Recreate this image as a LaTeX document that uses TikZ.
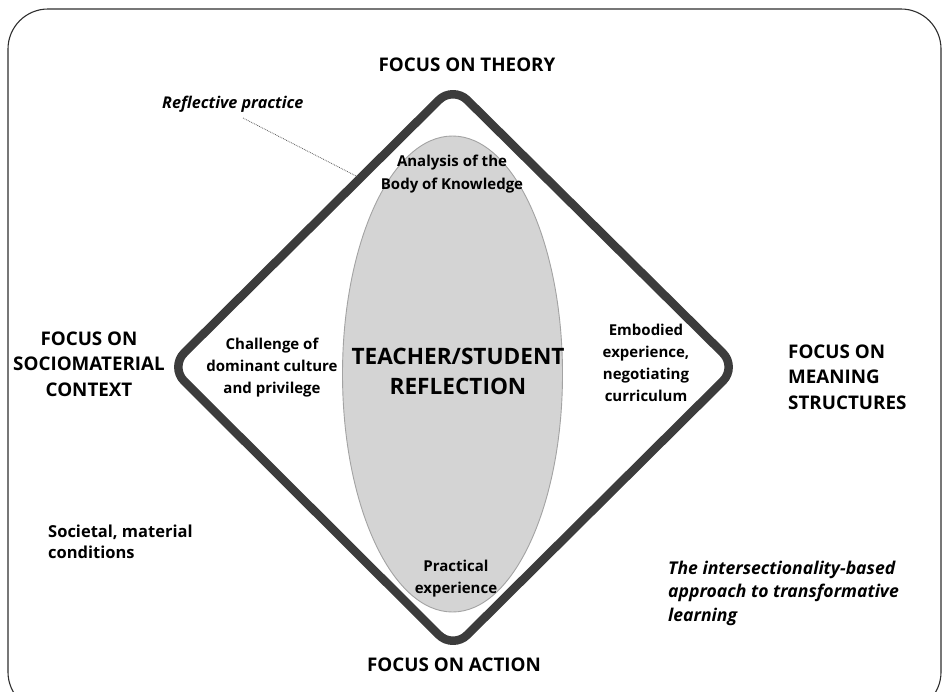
\documentclass[tikz,border=0pt]{standalone}
\usepackage{fontspec}
\setmainfont{Open Sans}
\usetikzlibrary{shapes.geometric,calc}
\definecolor{framegray}{HTML}{2E2E2E}
\definecolor{rimgray}{HTML}{3C3C3C}
\definecolor{corefill}{HTML}{D4D4D4}
\definecolor{coreedge}{HTML}{A3A3A3}
\begin{document}
\begin{tikzpicture}[x=1pt,y=-1pt,
  heading/.style={font=\fontsize{18.8}{25.5}\selectfont\bfseries, inner sep=0pt, align=center},
  sidehead/.style={heading, align=left, anchor=west},
  inner/.style={font=\fontsize{15}{22}\selectfont\bfseries, align=center, inner sep=0pt},
  note/.style={font=\fontsize{16.5}{21}\selectfont\bfseries, align=left, anchor=west, inner sep=0pt},
  slanted/.style={font=\fontsize{16.2}{23.5}\selectfont\bfseries\itshape, align=left, anchor=west, inner sep=0pt},
  rim/.style={line width=8.5pt, draw=rimgray, rounded corners=20pt, line join=round},
  leader/.style={draw=black!65, line width=0.8pt, densely dotted}]
\useasboundingbox (0,0) rectangle (944,691);

% outer rounded frame, cut off at the bottom edge
\begin{scope}
  \clip (0,0) rectangle (944,691);
  \draw[framegray, line width=1.1pt, rounded corners=40pt] (8,9) rectangle (941,712);
\end{scope}

% central ellipse
\node[ellipse, fill=corefill, draw=coreedge, line width=0.9pt,
      minimum width=220pt, minimum height=476pt, inner sep=0pt] (core) at (452.5,374) {};

% rounded diamond
\coordinate (dtop) at (453,86);
\coordinate (dright) at (737,367);
\coordinate (dbottom) at (453,649);
\coordinate (dleft) at (170,367);
\draw[rim] ($(dtop)!0.5!(dright)$) -- (dright) -- (dbottom) -- (dleft) -- (dtop) -- cycle;

% headings at the four vertices
\node[heading] (theory) at (467,65) {FOCUS ON THEORY};
\node[heading] (action) at (454,665) {FOCUS ON ACTION};
\node[heading] (socio) at (89,364) {FOCUS ON\\SOCIOMATERIAL\\CONTEXT};
\node[sidehead] (meaning) at (788,377) {FOCUS ON\\MEANING\\STRUCTURES};

% texts inside the diamond
\node[font=\fontsize{22.6}{30}\selectfont\bfseries, align=center, inner sep=0pt] (reflection) at (458,371) {TEACHER/STUDENT\\REFLECTION};
\node[inner, font=\fontsize{15}{23}\selectfont\bfseries] (analysis) at (452,174) {Analysis of the\\Body of Knowledge};
\node[inner] (challenge) at (272,368) {Challenge of\\dominant culture\\and privilege};
\node[inner] (embodied) at (646,363) {Embodied\\experience,\\negotiating\\curriculum};
\node[inner] (practical) at (456,579) {Practical\\experience};

% side notes
\node[slanted] (reflective) at (162,104) {Reflective practice};
\node[note] (societal) at (48,542) {Societal, material\\conditions};
\node[slanted, font=\fontsize{17.6}{23.5}\selectfont\bfseries\itshape] (approach) at (668,593) {The intersectionality-based\\approach to transformative\\learning};

% leader from the note to the diamond edge
\coordinate (leadstart) at (243,118);
\coordinate (rimpoint) at (358,177);
\draw[leader] (leadstart) -- (rimpoint);
\end{tikzpicture}
\end{document}
